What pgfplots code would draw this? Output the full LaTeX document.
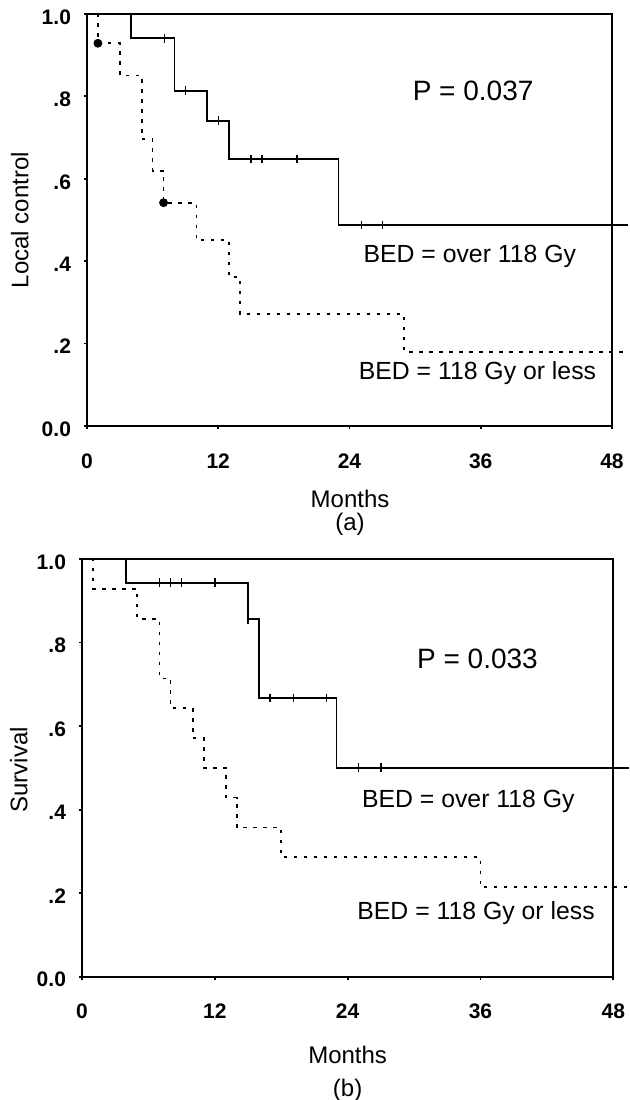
\documentclass[border=0pt]{standalone}
\usepackage{fontspec}
\setmainfont{Liberation Sans}
\usepackage{pgfplots}
\pgfplotsset{compat=1.18}

\pgfplotsset{
  km/.style={
    scale only axis, axis lines=box, axis line style={line width=0.9pt},
    xmin=0, xmax=48, ymin=0, ymax=1, clip=false,
    xtick={0,12,24,36,48}, xticklabels={0,12,24,36,48},
    ytick={0,0.2,0.4,0.6,0.8,1}, yticklabels={0.0,.2,.4,.6,.8,1.0},
    tick align=outside, major tick length=1.5pt,
    tick style={line width=0.9pt, black},
    xtick pos=bottom, ytick pos=left,
    /pgf/number format/assume math mode=true,
    ticklabel style={font=\fontsize{10.5}{12}\selectfont\bfseries},
    xticklabel style={anchor=north, yshift=-8.75pt},
    yticklabel style={anchor=east, xshift=-3pt, yshift=-1.5pt},
    label style={font=\fontsize{12}{14}\selectfont},
  },
  surv/.style={black, line width=0.9pt, const plot, mark=none},
  survd/.style={black, line width=0.85pt, const plot, mark=none, dash pattern=on 1.75pt off 3.25pt},
  cens/.style={black, only marks, mark=|, mark size=2.2pt, mark options={line width=0.7pt}},
}
\tikzset{note/.style={anchor=base, font=\fontsize{12.4}{14}\selectfont}}

\begin{document}
\begin{tikzpicture}
\useasboundingbox (0,0) rectangle (314.5pt,550pt);

% (a) local control
\begin{axis}[km, at={(43.5pt,337pt)}, anchor=south west, width=262.5pt, height=206pt,
  xlabel={Months}, ylabel={Local control},
  xlabel style={at={(rel axis cs:0.501,-0.177)}, anchor=center},
  ylabel style={at={(rel axis cs:-0.128,0.5)}, anchor=center}]
\addplot[survd] coordinates {(0,1)(1,0.929)(3,0.851)(5,0.696)(6,0.619)(7,0.542)(10,0.451)(13,0.361)(14,0.271)(29,0.180)(49.5,0.180)};
\addplot[black, only marks, mark=*, mark size=2pt] coordinates {(1,0.929)(7,0.542)};
\addplot[surv] coordinates {(0,1)(4,0.941)(8,0.814)(11,0.741)(13,0.648)(23,0.488)(49.5,0.488)};
\addplot[cens] coordinates {(7.1,0.941)(9,0.814)(12,0.741)(15,0.648)(16,0.648)(19.2,0.648)(25.1,0.488)(27,0.488)};
\node[note, font=\fontsize{14}{16}\selectfont] at (axis cs:35.3,0.789) {P = 0.037};
\node[note] at (axis cs:35.0,0.396) {BED = over 118 Gy};
\node[note] at (axis cs:35.7,0.112) {BED = 118 Gy or less};
\node[font=\fontsize{12}{14}\selectfont] at (rel axis cs:0.501,-0.238) {(a)};
\end{axis}

% (b) survival
\begin{axis}[km, at={(41pt,61.65pt)}, anchor=south west, width=265.65pt, height=208.85pt,
  xlabel={Months}, ylabel={Survival},
  xlabel style={at={(rel axis cs:0.5,-0.1875)}, anchor=center},
  ylabel style={at={(rel axis cs:-0.119,0.495)}, anchor=center}]
\addplot[survd] coordinates {(0,1)(1,0.929)(5,0.857)(7,0.714)(8,0.643)(10,0.571)(11,0.5)(13,0.429)(14,0.357)(18,0.286)(36,0.214)(49.4,0.214)};
\addplot[surv] coordinates {(0,1)(4,0.943)(15,0.856)(16,0.667)(23,0.5)(49.4,0.5)};
\addplot[cens] coordinates {(7,0.943)(8,0.943)(9,0.943)(12,0.943)(15,0.856)(17,0.667)(19.1,0.667)(22.1,0.667)(25,0.5)(27,0.5)};
\node[note, font=\fontsize{14}{16}\selectfont] at (axis cs:35.73,0.739) {P = 0.033};
\node[note] at (axis cs:34.9,0.406) {BED = over 118 Gy};
\node[note] at (axis cs:35.6,0.136) {BED = 118 Gy or less};
\node[font=\fontsize{12}{14}\selectfont] at (rel axis cs:0.5,-0.271) {(b)};
\end{axis}
\end{tikzpicture}
\end{document}
